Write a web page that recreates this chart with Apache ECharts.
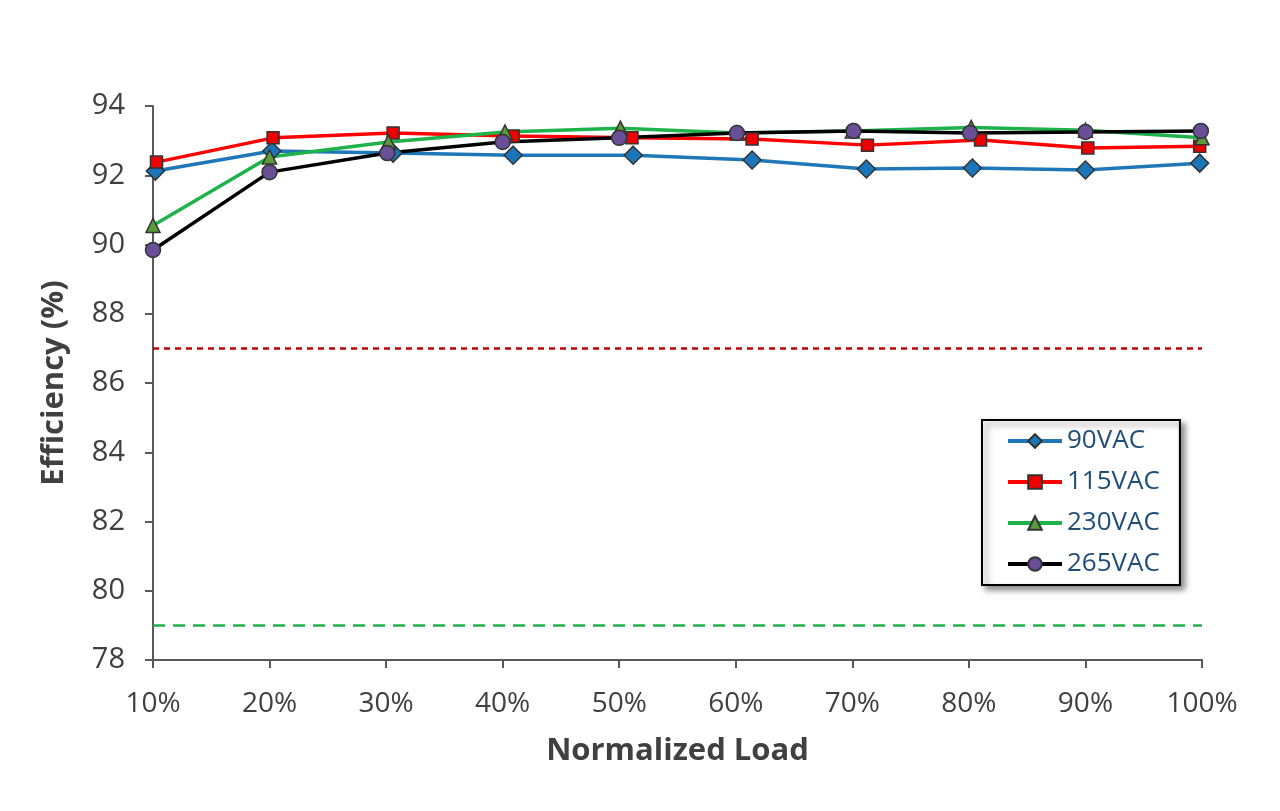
<!DOCTYPE html>
<html><head><meta charset="utf-8">
<script src="https://cdn.jsdelivr.net/npm/echarts@6/dist/echarts.min.js"></script>
<style>html,body{margin:0;padding:0;background:#fff}#c{width:1280px;height:811px}</style>
</head><body><div id="c"></div>
<script>
const seriesNames = ['90VAC','115VAC','230VAC','265VAC'];
const load90  = [10.2,20.2,30.6,40.9,51.2,61.4,71.2,80.3,90.0,99.8];
const eff90   = [92.12,92.70,92.64,92.58,92.58,92.44,92.18,92.21,92.15,92.35];
const load115 = [10.3,20.3,30.6,40.9,51.1,61.4,71.3,81.0,90.2,99.8];
const eff115  = [92.38,93.08,93.22,93.13,93.08,93.05,92.87,93.02,92.79,92.84];
const load230 = [10.0,20.0,30.2,40.2,50.1,60.1,70.0,80.2,90.0,100.0];
const eff230  = [90.55,92.53,92.96,93.25,93.36,93.22,93.28,93.38,93.30,93.08];
const load265 = [10.0,20.0,30.1,40.0,50.0,60.1,70.1,80.1,90.0,99.9];
const eff265  = [89.84,92.09,92.64,92.96,93.08,93.22,93.28,93.22,93.25,93.28];
const limitLoads = [10,100];
const limitRed = [87,87];
const limitGreen = [79,79];
const xTicks = ['10%','20%','30%','40%','50%','60%','70%','80%','90%','100%'];

const pair = (xs, ys) => xs.map((x,i)=>[x, ys[i]]);
const font = 'Open Sans';
const chart = echarts.init(document.getElementById('c'));
const mk = (name, xs, ys, color, symbol, fill, size) => ({
  name, type:'line', data: pair(xs,ys), symbol, symbolSize:size,
  lineStyle:{color, width:3.5}, itemStyle:{color:fill, borderColor:'#333', borderWidth:1.5},
  z:3
});
chart.setOption({
  animation:false,
  grid:{left:153, right:78, top:106, bottom:151},
  xAxis:{type:'value', min:10, max:100, interval:10,
    name:'Normalized Load', nameLocation:'middle', nameGap:76,
    nameTextStyle:{fontFamily:font, fontSize:31, fontWeight:'bold', color:'#404040'},
    axisLine:{lineStyle:{color:'#595959', width:2}},
    axisTick:{show:true, length:8, lineStyle:{color:'#595959', width:2}},
    axisLabel:{fontFamily:font, fontSize:28, color:'#404040', margin:30,
      formatter:(v)=> xTicks[Math.round((v-10)/10)]},
    splitLine:{show:false}},
  yAxis:{type:'value', min:78, max:94, interval:2,
    name:'Efficiency (%)', nameLocation:'middle', nameGap:83,
    nameTextStyle:{fontFamily:font, fontSize:31, fontWeight:'bold', color:'#404040'},
    axisLine:{show:true, lineStyle:{color:'#595959', width:2}},
    axisTick:{show:true, length:8, lineStyle:{color:'#595959', width:2}},
    axisLabel:{fontFamily:font, fontSize:29, color:'#404040', margin:28},
    splitLine:{show:false}},
  legend:{data:seriesNames, orient:'vertical', left:982, top:420,
    width:200, padding:[8,20,8,24], itemWidth:54, itemHeight:17, itemGap:15,
    backgroundColor:'#fff', borderColor:'#000', borderWidth:2,
    shadowColor:'rgba(0,0,0,0.45)', shadowBlur:6, shadowOffsetX:4, shadowOffsetY:4,
    lineStyle:{width:4},
    textStyle:{fontFamily:font, fontSize:26, color:'#1f4e79', padding:[0,0,0,0]}},
  series:[
    {name:'limit87', type:'line', data:pair(limitLoads,limitRed), symbol:'none',
      lineStyle:{color:'#c00000', width:2.5, type:[6,5]}, z:1, silent:true},
    {name:'limit79', type:'line', data:pair(limitLoads,limitGreen), symbol:'none',
      lineStyle:{color:'#21b04b', width:2.5, type:[12,8]}, z:1, silent:true},
    mk('90VAC', load90, eff90, '#1f77b8', 'diamond', '#1a76b8', 18),
    mk('115VAC', load115, eff115, '#ff0000', 'rect', '#ee0000', 12),
    mk('230VAC', load230, eff230, '#1db24a', 'triangle', '#5c9a3c', 14),
    mk('265VAC', load265, eff265, '#000000', 'circle', '#6a4f98', 15)
  ]
});
</script></body></html>
